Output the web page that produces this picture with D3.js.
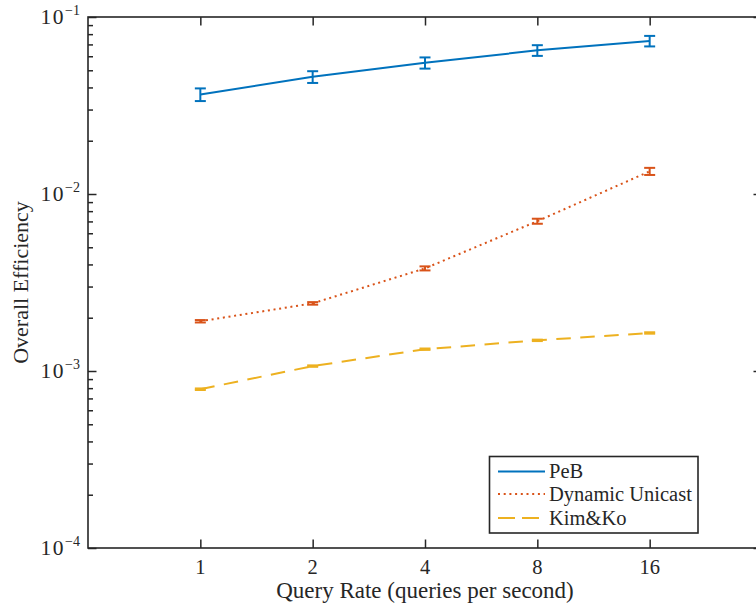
<!DOCTYPE html>
<html>
<head>
<meta charset="utf-8">
<script src="https://cdn.jsdelivr.net/npm/d3@7"></script>
<style>
  html, body { margin: 0; padding: 0; background: #fff; }
  svg { display: block; font-family: "Liberation Serif", "DejaVu Serif", serif; }
</style>
</head>
<body>
<svg id="chart" width="756" height="612"></svg>
<script>
// Query rates (queries per second)
const queryRates = [1, 2, 4, 8, 16];
const xTickLabels = ["1", "2", "4", "8", "16"];
const yTickExponents = [-4, -3, -2, -1];

// Overall efficiency per method, with error half-widths
const pebMean = [0.0365, 0.0459, 0.0551, 0.0648, 0.0732];
const pebErr = [0.0030, 0.0035, 0.0040, 0.0045, 0.0050];
const unicastMean = [0.00191, 0.00241, 0.00380, 0.00702, 0.01343];
const unicastErr = [0.00003, 0.00004, 0.00010, 0.00023, 0.00062];
const kimMean = [0.000789, 0.001066, 0.001328, 0.00149, 0.00164];
const kimErr = [0.000008, 0.00001, 0.000012, 0.000014, 0.000015];

const seriesNames = ["PeB", "Dynamic Unicast", "Kim&Ko"];
const seriesColors = ["#0072BD", "#D95319", "#EDB120"];
const seriesDash = [null, "2,3.7", "14.5,9.5"];
const legendDash = [null, "2,3.7", "17,7"];

const svg = d3.select("#chart");
const axisColor = "#262626";

const plot = { left: 88, right: 762, top: 17, bottom: 548 };

const x = d3.scaleLog().base(2).domain([0.5, 32]).range([plot.left, plot.right]);
const y = d3.scaleLog().domain([1e-4, 1e-1]).range([plot.bottom, plot.top]);

// Clip for data marks
svg.append("defs").append("clipPath").attr("id", "plotclip")
  .append("rect")
  .attr("x", plot.left).attr("y", plot.top)
  .attr("width", plot.right - plot.left).attr("height", plot.bottom - plot.top);

// Axes with inward ticks on all four sides
const majorLen = 8.5, minorLen = 5;
const yMinor = [];
for (let e = -4; e < -1; e++) {
  for (let m = 2; m <= 9; m++) yMinor.push(m * Math.pow(10, e));
}
const yMajor = yTickExponents.map(e => Math.pow(10, e));

function styleAxis(g) {
  g.select(".domain").remove();
  g.selectAll(".tick line").attr("stroke", axisColor).attr("stroke-width", 1.5);
  g.selectAll(".tick text").remove();
}

// bottom
svg.append("g").attr("transform", `translate(0,${plot.bottom})`)
  .call(d3.axisTop(x).tickValues(queryRates).tickSize(majorLen).tickFormat(""))
  .call(styleAxis);
// top
svg.append("g").attr("transform", `translate(0,${plot.top})`)
  .call(d3.axisBottom(x).tickValues(queryRates).tickSize(majorLen).tickFormat(""))
  .call(styleAxis);
// left major / minor
svg.append("g").attr("transform", `translate(${plot.left},0)`)
  .call(d3.axisRight(y).tickValues(yMajor).tickSize(majorLen).tickFormat(""))
  .call(styleAxis);
svg.append("g").attr("transform", `translate(${plot.left},0)`)
  .call(d3.axisRight(y).tickValues(yMinor).tickSize(minorLen).tickFormat(""))
  .call(styleAxis);
// right major / minor
svg.append("g").attr("transform", `translate(${plot.right},0)`)
  .call(d3.axisLeft(y).tickValues(yMajor).tickSize(majorLen).tickFormat(""))
  .call(styleAxis);
svg.append("g").attr("transform", `translate(${plot.right},0)`)
  .call(d3.axisLeft(y).tickValues(yMinor).tickSize(minorLen).tickFormat(""))
  .call(styleAxis);

// Box
svg.append("rect")
  .attr("x", plot.left).attr("y", plot.top)
  .attr("width", plot.right - plot.left).attr("height", plot.bottom - plot.top)
  .attr("fill", "none").attr("stroke", axisColor).attr("stroke-width", 1.6);

// X tick labels
svg.append("g").selectAll("text")
  .data(queryRates)
  .join("text")
  .attr("x", d => x(d))
  .attr("y", plot.bottom + 26)
  .attr("text-anchor", "middle")
  .attr("font-size", 20.5)
  .attr("fill", axisColor)
  .text((d, i) => xTickLabels[i]);

// Y tick labels as powers of ten
const yLab = svg.append("g").selectAll("text")
  .data(yTickExponents)
  .join("text")
  .attr("x", 80)
  .attr("y", d => y(Math.pow(10, d)) + 7)
  .attr("text-anchor", "end")
  .attr("font-size", 21.5)
  .attr("fill", axisColor);
yLab.append("tspan").attr("letter-spacing", 1.5).text("10");
yLab.append("tspan").attr("dy", -9.5).attr("font-size", 14).text(d => "\u2212" + Math.abs(d));

// Axis titles
svg.append("text")
  .attr("x", (plot.left + plot.right) / 2)
  .attr("y", 598)
  .attr("text-anchor", "middle")
  .attr("font-size", 23)
  .attr("fill", axisColor)
  .text("Query Rate (queries per second)");

svg.append("text")
  .attr("transform", `translate(28,${(plot.top + plot.bottom) / 2}) rotate(-90)`)
  .attr("text-anchor", "middle")
  .attr("font-size", 22)
  .attr("fill", axisColor)
  .text("Overall Efficiency");

// Data series
const series = [
  { mean: pebMean, err: pebErr },
  { mean: unicastMean, err: unicastErr },
  { mean: kimMean, err: kimErr }
];

const line = d3.line().x(d => x(d.q)).y(d => y(d.v));
const dataLayer = svg.append("g").attr("clip-path", "url(#plotclip)");
const capHalf = 5.5;

series.forEach((s, si) => {
  const pts = queryRates.map((q, i) => ({ q, v: s.mean[i], e: s.err[i] }));
  dataLayer.append("path")
    .datum(pts)
    .attr("d", line)
    .attr("fill", "none")
    .attr("stroke", seriesColors[si])
    .attr("stroke-width", 2)
    .attr("stroke-dasharray", seriesDash[si]);

  const eb = dataLayer.append("g")
    .attr("stroke", seriesColors[si])
    .attr("stroke-width", 2)
    .selectAll("g")
    .data(pts)
    .join("g");
  eb.append("line")
    .attr("x1", d => x(d.q)).attr("x2", d => x(d.q))
    .attr("y1", d => y(d.v - d.e)).attr("y2", d => y(d.v + d.e));
  eb.append("line")
    .attr("x1", d => x(d.q) - capHalf).attr("x2", d => x(d.q) + capHalf)
    .attr("y1", d => y(d.v + d.e)).attr("y2", d => y(d.v + d.e));
  eb.append("line")
    .attr("x1", d => x(d.q) - capHalf).attr("x2", d => x(d.q) + capHalf)
    .attr("y1", d => y(d.v - d.e)).attr("y2", d => y(d.v - d.e));
});

// Legend
const legend = svg.append("g");
legend.append("rect")
  .attr("x", 489.5).attr("y", 456.5)
  .attr("width", 208.5).attr("height", 76.5)
  .attr("fill", "#fff").attr("stroke", axisColor).attr("stroke-width", 1.6);

const rowY = [471.5, 494, 518];
seriesNames.forEach((name, i) => {
  legend.append("line")
    .attr("x1", 498).attr("x2", 545)
    .attr("y1", rowY[i]).attr("y2", rowY[i])
    .attr("stroke", seriesColors[i])
    .attr("stroke-width", 2)
    .attr("stroke-dasharray", legendDash[i]);
  legend.append("text")
    .attr("x", 549).attr("y", rowY[i] + 6.5)
    .attr("font-size", 20.5)
    .attr("fill", axisColor)
    .text(name);
});
</script>
</body>
</html>
